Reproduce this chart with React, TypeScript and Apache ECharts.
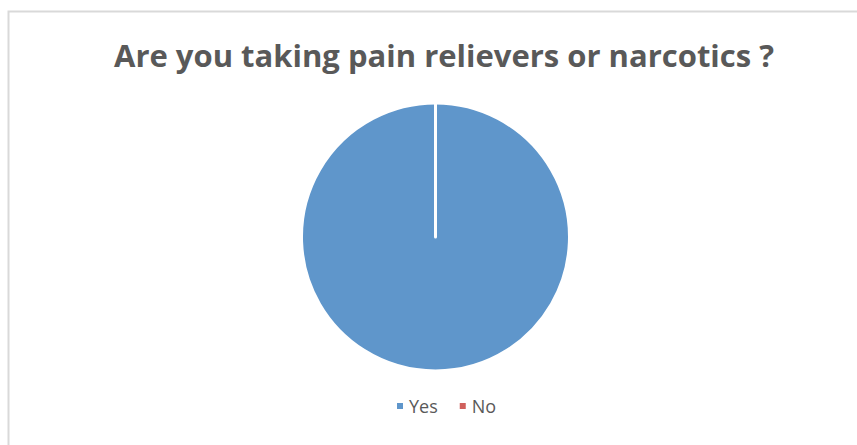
import React, { useEffect, useRef } from "react";
import * as echarts from "echarts";

const title = "Are you taking pain relievers or narcotics ?";
const categories = ["Yes", "No"];
const values = [100, 0];
const colors = ["#5f96cb", "#d0605c"];

export default function App() {
  const ref = useRef<HTMLDivElement>(null);
  useEffect(() => {
    if (!ref.current) return;
    const chart = echarts.init(ref.current, null, { renderer: "svg" });
    chart.setOption({
      animation: false,
      backgroundColor: "#ffffff",
      title: {
        text: title,
        left: 439,
        textAlign: "center",
        top: 34,
        textStyle: {
          fontFamily: "Open Sans",
          fontWeight: "bold",
          fontSize: 31,
          color: "#595959",
        },
      },
      legend: {
        bottom: 25,
        left: 390,
        itemWidth: 8,
        itemHeight: 8,
        itemGap: 20,
        icon: "rect",
        data: categories,
        textStyle: { fontFamily: "Open Sans", fontSize: 18, color: "#595959" },
      },
      graphic: [
        {
          type: "rect",
          shape: { x: 8.5, y: 11.5, width: 900, height: 500 },
          style: { fill: "none", stroke: "#d9d9d9", lineWidth: 2 },
          silent: true,
        },
      ],
      series: [
        {
          type: "pie",
          center: [435.5, 237],
          radius: 134,
          startAngle: 90,
          clockwise: true,
          label: { show: false },
          labelLine: { show: false },
          itemStyle: { borderColor: "#ffffff", borderWidth: 3 },
          data: categories.map((c, i) => ({
            name: c,
            value: values[i],
            itemStyle: { color: colors[i] },
          })),
        },
      ],
    });
    return () => chart.dispose();
  }, []);
  return (
    <div
      ref={ref}
      style={{ position: "fixed", left: 0, top: 0, width: 857, height: 445 }}
    />
  );
}
